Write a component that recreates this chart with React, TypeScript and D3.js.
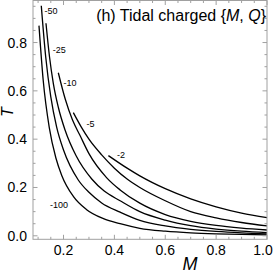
import * as d3 from "d3";

type Pt = [number, number];

// contour levels, left to right
const levels = ["-100", "-50", "-25", "-10", "-5", "-2"];

const q100: Pt[] = [[0.1035, 0.87], [0.12, 0.645], [0.144, 0.448], [0.17, 0.322], [0.193, 0.25], [0.2386, 0.163], [0.291, 0.108], [0.357, 0.071], [0.4225, 0.05], [0.5, 0.031], [0.6, 0.019], [0.7, 0.012], [0.8, 0.008], [0.9, 0.0055], [1.0, 0.004]];
const q50: Pt[] = [[0.1126, 0.952], [0.13, 0.74], [0.15, 0.575], [0.173, 0.45], [0.2, 0.355], [0.258, 0.231], [0.3, 0.18], [0.35, 0.136], [0.4225, 0.098], [0.5, 0.064], [0.6, 0.041], [0.7, 0.027], [0.8, 0.018], [0.9, 0.012], [1.0, 0.008]];
const q25: Pt[] = [[0.131, 0.88], [0.145, 0.74], [0.16, 0.63], [0.18, 0.53], [0.206, 0.438], [0.25, 0.33], [0.311, 0.235], [0.36, 0.185], [0.4225, 0.145], [0.5, 0.1], [0.6, 0.065], [0.7, 0.042], [0.8, 0.028], [0.9, 0.019], [1.0, 0.013]];
const q10: Pt[] = [[0.1795, 0.675], [0.207, 0.565], [0.235, 0.48], [0.265, 0.415], [0.3, 0.34], [0.37, 0.24], [0.4225, 0.19], [0.5, 0.135], [0.6, 0.088], [0.7, 0.06], [0.8, 0.043], [0.9, 0.032], [1.0, 0.024]];
const q5: Pt[] = [[0.2386, 0.51], [0.27, 0.45], [0.3, 0.4], [0.35, 0.335], [0.4, 0.28], [0.45, 0.235], [0.5, 0.2], [0.6, 0.145], [0.7, 0.1], [0.8, 0.074], [0.9, 0.055], [1.0, 0.041]];
const q2: Pt[] = [[0.3764, 0.332], [0.45, 0.28], [0.5, 0.248], [0.6, 0.195], [0.7, 0.153], [0.8, 0.12], [0.9, 0.094], [1.0, 0.075]];

const series = [q100, q50, q25, q10, q5, q2];

// where each contour label sits (M, T)
const labelPos: Pt[] = [[0.147, 0.115], [0.125, 0.918], [0.158, 0.757], [0.2, 0.62], [0.29, 0.45], [0.41, 0.32]];

const xTicks = [0.2, 0.4, 0.6, 0.8, 1.0];
const yTicks = [0.0, 0.2, 0.4, 0.6, 0.8];

const W = 274;
const H = 273;

export default function App() {
  const x = d3.scaleLinear().domain([0.08, 1.0]).range([33, 267]);
  const y = d3.scaleLinear().domain([-0.0145, 0.974]).range([239.3, 0.5]);

  const line = d3
    .line<Pt>()
    .curve(d3.curveMonotoneX)
    .x((d) => x(d[0]))
    .y((d) => y(d[1]));

  const xMinor = d3.range(0.1, 1.0001, 0.05).filter((v) => !xTicks.some((t) => Math.abs(t - v) < 1e-6));
  const yMinor = d3.range(0, 0.96, 0.05).filter((v) => !yTicks.some((t) => Math.abs(t - v) < 1e-6));

  const [x0, x1] = x.range();
  const [y0, y1] = y.range();
  const frame = "#a0a0a0";
  const font = "'Liberation Sans', Arial, sans-serif";

  return (
    <svg
      width={W}
      height={H}
      style={{ position: "absolute", left: 0, top: 0, background: "#fff" }}
      fontFamily={font}
    >
      {/* curves */}
      {series.map((s, i) => (
        <path key={levels[i]} d={line(s) ?? ""} fill="none" stroke="#000" strokeWidth={1.3} />
      ))}

      {/* frame */}
      <rect x={x0} y={y1} width={x1 - x0} height={y0 - y1} fill="none" stroke={frame} strokeWidth={1} />

      {/* ticks */}
      {xTicks.map((t) => (
        <g key={"xt" + t} stroke={frame}>
          <line x1={x(t)} x2={x(t)} y1={y0} y2={y0 - 4.5} />
          <line x1={x(t)} x2={x(t)} y1={y1} y2={y1 + 4.5} />
        </g>
      ))}
      {xMinor.map((t) => (
        <g key={"xm" + t} stroke={frame}>
          <line x1={x(t)} x2={x(t)} y1={y0} y2={y0 - 2.5} />
          <line x1={x(t)} x2={x(t)} y1={y1} y2={y1 + 2.5} />
        </g>
      ))}
      {yTicks.map((t) => (
        <g key={"yt" + t} stroke={frame}>
          <line x1={x0} x2={x0 + 4.5} y1={y(t)} y2={y(t)} />
          <line x1={x1} x2={x1 - 4.5} y1={y(t)} y2={y(t)} />
        </g>
      ))}
      {yMinor.map((t) => (
        <g key={"ym" + t} stroke={frame}>
          <line x1={x0} x2={x0 + 2.5} y1={y(t)} y2={y(t)} />
          <line x1={x1} x2={x1 - 2.5} y1={y(t)} y2={y(t)} />
        </g>
      ))}

      {/* tick labels */}
      {xTicks.map((t) => (
        <text key={"xl" + t} x={Math.min(x(t), W - 11)} y={255} fontSize={14} textAnchor="middle" fill="#000">
          {t.toFixed(1)}
        </text>
      ))}
      {yTicks.map((t) => (
        <text key={"yl" + t} x={27} y={y(t) + 5} fontSize={14} textAnchor="end" fill="#000">
          {t.toFixed(1)}
        </text>
      ))}

      {/* axis labels */}
      <text x={190} y={270} fontSize={18} fontStyle="italic" textAnchor="middle">
        M
      </text>
      <text transform="translate(13,112) rotate(-90)" fontSize={16} fontStyle="italic" textAnchor="middle">
        T
      </text>

      {/* title */}
      <text x={266} y={21} fontSize={16} textAnchor="end">
        (h) Tidal charged {"{"}
        <tspan fontStyle="italic">M</tspan>, <tspan fontStyle="italic">Q</tspan>
        {"}"}
      </text>

      {/* contour labels */}
      {labelPos.map((p, i) => (
        <text key={"cl" + i} x={x(p[0])} y={y(p[1])} fontSize={9} fill="#000">
          {levels[i]}
        </text>
      ))}
    </svg>
  );
}
